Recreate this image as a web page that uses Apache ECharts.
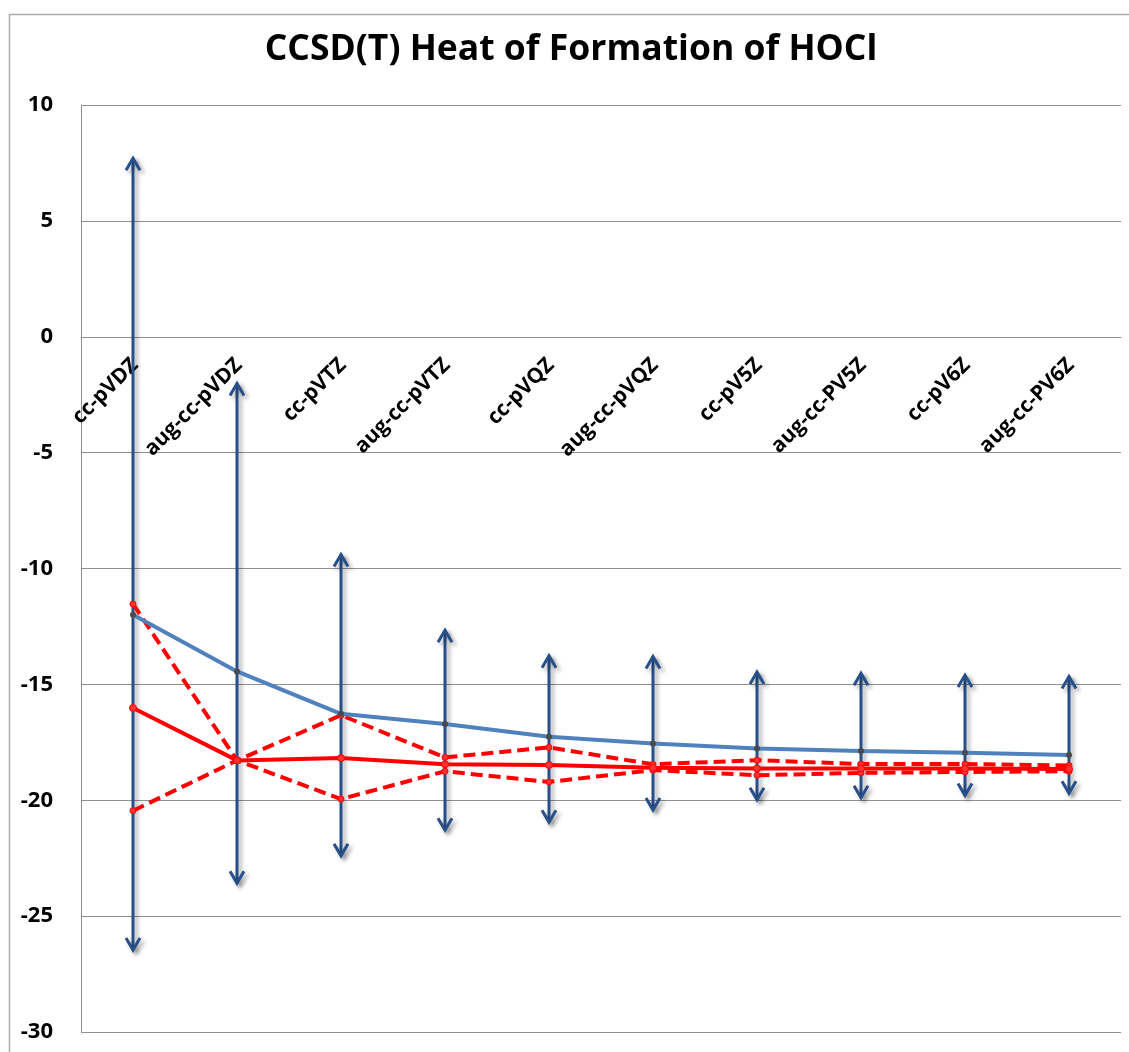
<!DOCTYPE html>
<html>
<head>
<meta charset="utf-8">
<title>CCSD(T) Heat of Formation of HOCl</title>
<script src="https://cdn.jsdelivr.net/npm/echarts@6/dist/echarts.min.js"></script>
<style>
  html, body { margin: 0; padding: 0; background: #ffffff; }
  #chart { width: 1129px; height: 1052px; }
</style>
</head>
<body>
<div id="chart"></div>
<script>
// Basis sets along the category axis
const basisSets = ['cc-pVDZ', 'aug-cc-pVDZ', 'cc-pVTZ', 'aug-cc-pVTZ', 'cc-pVQZ',
                   'aug-cc-pVQZ', 'cc-pV5Z', 'aug-cc-PV5Z', 'cc-pV6Z', 'aug-cc-PV6Z'];

// Heat of formation (kcal/mol) per basis set
const blueSeries  = [-12.0, -14.44, -16.27, -16.71, -17.26, -17.55, -17.77, -17.88, -17.95, -18.05];
const redSeries   = [-16.02, -18.28, -18.18, -18.45, -18.48, -18.60, -18.63, -18.63, -18.63, -18.65];
const redUpper    = [-11.53, -18.28, -16.33, -18.15, -17.72, -18.45, -18.27, -18.44, -18.44, -18.50];
const redLower    = [-20.45, -18.28, -19.95, -18.75, -19.21, -18.70, -18.92, -18.82, -18.78, -18.75];

// Ranges shown as double-headed arrows
const rangeTop    = [7.7, -2.02, -9.40, -12.66, -13.76, -13.80, -14.47, -14.52, -14.60, -14.66];
const rangeBottom = [-26.46, -23.58, -22.40, -21.29, -20.95, -20.42, -19.98, -19.89, -19.80, -19.70];

// Value axis ticks
const yMin = -30, yMax = 10, yStep = 5;

const FONT = '"Open Sans", "Liberation Sans", sans-serif';
const arrowColor = '#27508A';

const rangeData = basisSets.map((_, i) => [i, rangeTop[i], rangeBottom[i]]);

function renderArrow(params, api) {
  const top = api.coord([api.value(0), api.value(1)]);
  const bot = api.coord([api.value(0), api.value(2)]);
  const hw = 7, hl = 12;
  const style = {
    stroke: arrowColor,
    lineWidth: 3,
    fill: null,
    shadowColor: 'rgba(0,0,0,0.35)',
    shadowBlur: 4,
    shadowOffsetX: 3,
    shadowOffsetY: 3
  };
  return {
    type: 'group',
    children: [
      { type: 'line', shape: { x1: top[0], y1: top[1], x2: bot[0], y2: bot[1] }, style: style },
      { type: 'polyline', shape: { points: [[top[0] - hw, top[1] + hl], [top[0], top[1]], [top[0] + hw, top[1] + hl]] }, style: style },
      { type: 'polyline', shape: { points: [[bot[0] - hw, bot[1] - hl], [bot[0], bot[1]], [bot[0] + hw, bot[1] - hl]] }, style: style }
    ]
  };
}

const chart = echarts.init(document.getElementById('chart'), null, { renderer: 'canvas' });

chart.setOption({
  backgroundColor: '#ffffff',
  animation: false,
  title: {
    text: 'CCSD(T) Heat of Formation of HOCl',
    left: 566,
    textAlign: 'center',
    top: 27,
    textStyle: { fontFamily: FONT, fontWeight: 'bold', fontSize: 35.5, color: '#000000' }
  },
  graphic: [{
    type: 'rect',
    left: 7, top: 12,
    shape: { width: 1200, height: 1100 },
    style: { fill: null, stroke: '#ababab', lineWidth: 1.5 },
    silent: true,
    z: -1
  }],
  grid: { left: 81, right: 8, top: 105, bottom: 20, containLabel: false, outerBoundsMode: 'none' },
  xAxis: {
    type: 'category',
    data: basisSets,
    boundaryGap: true,
    position: 'bottom',
    offset: 0,
    axisLine: { show: true, onZero: false, lineStyle: { color: '#909090', width: 1 } },
    axisTick: { show: false },
    splitLine: { show: false },
    axisLabel: {
      interval: 0,
      rotate: 45,
      margin: 12,
      padding: [0, 8, 0, 0],
      align: 'right',
      verticalAlign: 'top',
      hideOverlap: false,
      fontFamily: FONT,
      fontWeight: 'bold',
      fontSize: 21,
      color: '#000000'
    }
  },
  yAxis: {
    type: 'value',
    min: yMin,
    max: yMax,
    interval: yStep,
    axisLine: { show: true, lineStyle: { color: '#909090', width: 1 } },
    axisTick: { show: false },
    splitLine: { show: true, lineStyle: { color: '#909090', width: 1 } },
    axisLabel: {
      margin: 28,
      fontFamily: FONT,
      fontWeight: 'bold',
      fontSize: 22,
      color: '#000000'
    }
  },
  series: [
    {
      name: 'range',
      type: 'custom',
      renderItem: renderArrow,
      data: rangeData,
      encode: { x: 0, y: [1, 2] },
      z: 1
    },
    {
      name: 'upper',
      type: 'line',
      data: redUpper,
      lineStyle: { color: '#ff0000', width: 4, type: [12, 6] },
      symbol: 'circle',
      symbolSize: 6,
      itemStyle: { color: '#ff3030', borderColor: '#ff0000', borderWidth: 1 },
      z: 3
    },
    {
      name: 'lower',
      type: 'line',
      data: redLower,
      lineStyle: { color: '#ff0000', width: 4, type: [12, 6] },
      symbol: 'circle',
      symbolSize: 6,
      itemStyle: { color: '#ff3030', borderColor: '#ff0000', borderWidth: 1 },
      z: 3
    },
    {
      name: 'CCSD(T)',
      type: 'line',
      data: redSeries,
      lineStyle: { color: '#ff0000', width: 4 },
      symbol: 'circle',
      symbolSize: 7,
      itemStyle: { color: '#ff3030', borderColor: '#ff0000', borderWidth: 1 },
      z: 4
    },
    {
      name: 'blue',
      type: 'line',
      data: blueSeries,
      lineStyle: { color: '#4F81BD', width: 4 },
      symbol: 'circle',
      symbolSize: 6,
      itemStyle: { color: '#4a4a4a', borderColor: '#4a4a4a', borderWidth: 0 },
      z: 4
    }
  ]
});

// The category axis sits on the zero line of the value axis
const zeroY = chart.convertToPixel({ yAxisIndex: 0 }, 0);
const floorY = chart.convertToPixel({ yAxisIndex: 0 }, yMin);
chart.setOption({ xAxis: { offset: zeroY - floorY } });
</script>
</body>
</html>
